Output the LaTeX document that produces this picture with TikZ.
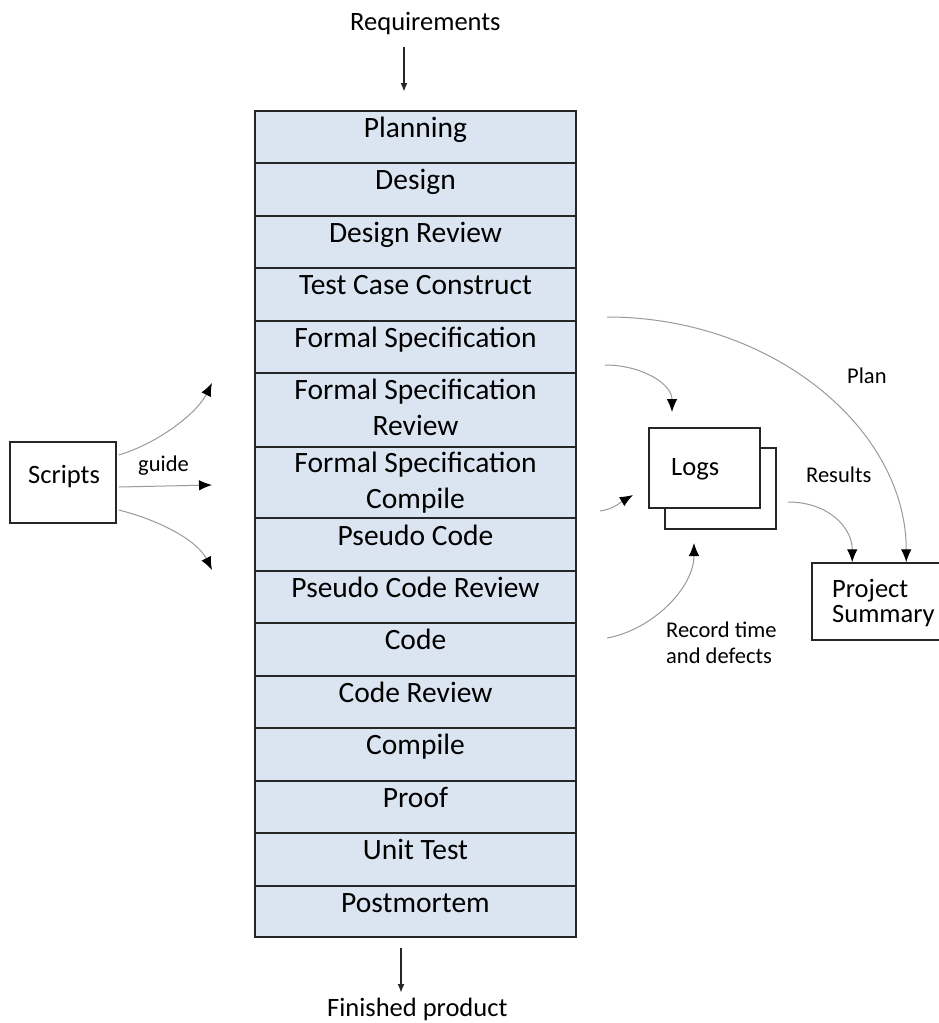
\documentclass[tikz,border=0pt]{standalone}
\usepackage{fontspec}
\setmainfont{Carlito}
\usetikzlibrary{positioning, calc, arrows.meta}
\definecolor{cellblue}{HTML}{DBE5F1}
\definecolor{curvegray}{HTML}{9A9A9A}
\tikzset{>={Latex[length=11pt,width=8pt]}}

\begin{document}
\begin{tikzpicture}[x=1pt, y=-1pt,
	row/.style={draw=black!85, line width=2pt, fill=cellblue, minimum width=321pt,
		inner sep=0pt, outer sep=0pt},
	rowtext/.style={anchor=base, align=center, inner sep=0pt,
		font=\fontsize{29.5}{36}\selectfont},
	box/.style={draw=black!85, line width=1.5pt, fill=white, inner sep=0pt},
	bigtext/.style={anchor=base west, align=left, inner sep=0pt,
		font=\fontsize{26.5}{25}\selectfont},
	note/.style={anchor=base west, align=left, inner sep=0pt,
		font=\fontsize{22.5}{26}\selectfont},
	flow/.style={curvegray, line width=1pt, -{Latex[length=13pt,width=10.5pt,color=black]}},
	main/.style={black!85, line width=2pt, -{Latex[length=9pt,width=7pt]}}]

	\fill[white] (0,0) rectangle (939,1023);
	\useasboundingbox (0,0) rectangle (939,1023);

	%% Phases
	\coordinate (top) at (415.5,110.7);
	\foreach \name/\txt/\h/\off [remember=\name as \prev (initially top)] in
	{plan/Planning/52.5/26.5, design/Design/52.5/26.5,
	 desrev/Design Review/52.5/26.5,
	 testcase/Test Case Construct/52.5/26.5,
	 fspec/Formal Specification/52.5/26.5,
	 fsrev/{Formal Specification\\Review}/73.5/62.5,
	 fscomp/{Formal Specification\\Compile}/71.3/62,
	 pseudo/Pseudo Code/52.5/27, pseudorev/Pseudo Code Review/52.5/26.5,
	 code/Code/52.5/26.5, coderev/Code Review/52.5/26.5,
	 compile/Compile/52.5/26.5, proof/Proof/52.5/26.5,
	 unittest/Unit Test/52.5/26.5, postmortem/Postmortem/51/26.5}
	{
	\node[row, minimum height=\h pt, below=0pt of \prev] (\name) {};
	\node[rowtext] (\name-t) at ([yshift=-\off pt]\name.north) {\txt};
	}

	%% Input / output
	\node[bigtext] (req) at (350,30) {Requirements};
	\node[bigtext] (fin) at (327,1016.5) {Finished product};
	\coordinate (r1) at (404,47);
	\coordinate (r2) at (404,92);
	\coordinate (f1) at (401,948);
	\coordinate (f2) at (401,993);
	\draw[main] (r1) -- (r2);
	\draw[main] (f1) -- (f2);

	%% Scripts
	\node[box, minimum width=106pt, minimum height=81pt] (scripts) at (63,482.5) {};
	\node[bigtext] (scripts-t) at (28,483) {Scripts};
	\node[note] (guide) at (138,471) {guide};
	\coordinate (s1) at (212,383);
	\coordinate (s2) at (212,485);
	\coordinate (s3) at (212,570);
	\draw[flow] ($(scripts.east)+(2,-27.5)$) .. controls +(40,-12) and +(-15,30) .. (s1);
	\draw[flow] ($(scripts.east)+(2,4.5)$) -- (s2);
	\draw[flow] ($(scripts.east)+(2,27.5)$) .. controls +(40,10) and +(-15,-30) .. (s3);

	%% Logs
	\node[box, minimum width=111pt, minimum height=81pt] (logs-b) at (720.5,488.5) {};
	\node[box, minimum width=111pt, minimum height=80pt] (logs) at (704.5,468) {};
	\node[bigtext] (logs-t) at (671,475) {Logs};

	%% Summary
	\node[box, minimum width=148pt, minimum height=77pt] (summary) at (886,601.5) {};
	\node[bigtext] (summary-t) at (832,622) {Project\\Summary};

	%% Recording
	\coordinate (p1) at (607,317);
	\coordinate (l1) at (605,365);
	\coordinate (l2) at (672,412);
	\coordinate (c1) at (600,511);
	\coordinate (c2) at (633,495);
	\coordinate (d1) at (607,638);
	\coordinate (d2) at (694,543);
	\coordinate (res1) at (788,502);
	\draw[flow] (p1) .. controls +(166,0) and +(0,-133) .. ($(summary.north west)+(95,0)$);
	\draw[flow] (l1) .. controls +(37,0) and +(0,-28) .. (l2);
	\draw[flow] (c1) .. controls +(14,-2) and +(-12,7) .. (c2);
	\draw[flow] (d1) .. controls +(45,-8) and +(0,45) .. (d2);
	\draw[flow] (res1) .. controls +(40,0) and +(0,-35) .. ($(summary.north west)+(41,0)$);

	\node[note] (plan-l) at (847,383) {Plan};
	\node[note] (res-l) at (806,482) {Results};
	\node[note] (rec-l) at (666,663) {Record time\\and defects};

\end{tikzpicture}
\end{document}
